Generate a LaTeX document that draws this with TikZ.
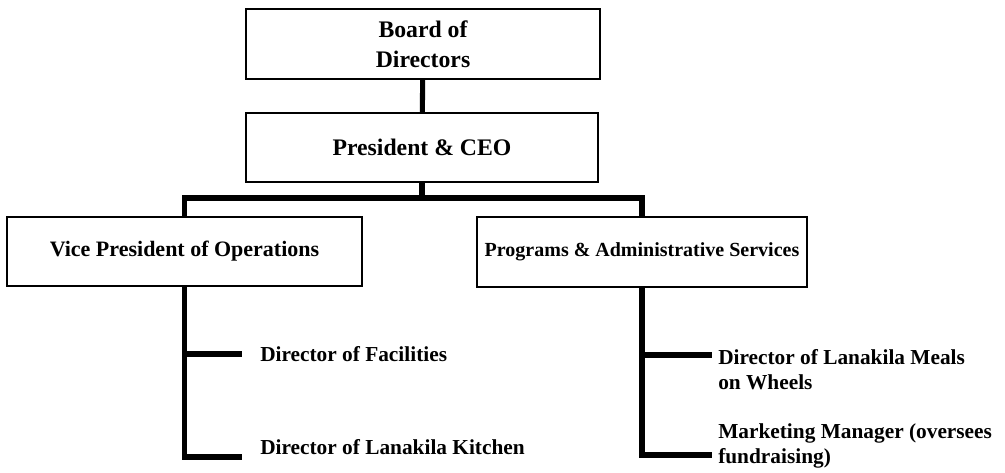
\documentclass[tikz,border=0pt]{standalone}
\usepackage{fontspec}
\setmainfont{Liberation Serif}
\usetikzlibrary{positioning}

\begin{document}
\begin{tikzpicture}[
    x=0.75pt, y=-0.75pt,
    box/.style={rectangle, draw, line width=1.5pt, align=center, font=\bfseries, inner sep=0pt},
    role/.style={anchor=west, align=left, font=\bfseries\fontsize{16}{18.75}\selectfont, inner sep=0pt},
    link/.style={line width=3.8pt}
]
    \useasboundingbox (0,0) rectangle (1005,473);

    \node[box, minimum width=265.5pt, minimum height=52.5pt, font=\bfseries\fontsize{17.8}{22.5}\selectfont] (board) at (423,44) {Board of\\Directors};
    \node[box, minimum width=264pt, minimum height=51.75pt, font=\bfseries\fontsize{17.8}{20}\selectfont] (pres) at (422,147.5) {President \& CEO};
    \node[box, minimum width=266.25pt, minimum height=51.75pt, font=\bfseries\fontsize{16.5}{20}\selectfont] (vp) at (184.5,251.5) {Vice President of Operations};
    \node[box, minimum width=247.5pt, minimum height=52.5pt, font=\bfseries\fontsize{15}{18}\selectfont] (pas) at (642,252) {Programs \& Administrative Services};

    \node[role] (fac) at (260,354) {Director of Facilities};
    \node[role] (kitchen) at (260,447) {Director of Lanakila Kitchen};
    \node[role] (meals) at (718,369.5) {Director of Lanakila Meals\\on Wheels};
    \node[role] (marketing) at (718,445.5) {Marketing Manager (oversees\\fundraising)};

    \coordinate (facT) at (242,354);
    \coordinate (kitT) at (242,457);
    \coordinate (mealsT) at (712,355);
    \coordinate (mktT) at (712,455);

    % Lines
    \draw[link] (board) -- (pres);
    \draw[link] (pres) -- (pres.south |- 0,199);
    \draw[link] (vp.north) -- ++(0,-18) -| (pas.north);
    \draw[link] (vp.south) |- (kitT);
    \draw[link] (vp.south |- facT) -- (facT);
    \draw[link] (pas.south) |- (mktT);
    \draw[link] (pas.south |- mealsT) -- (mealsT);
\end{tikzpicture}
\end{document}
